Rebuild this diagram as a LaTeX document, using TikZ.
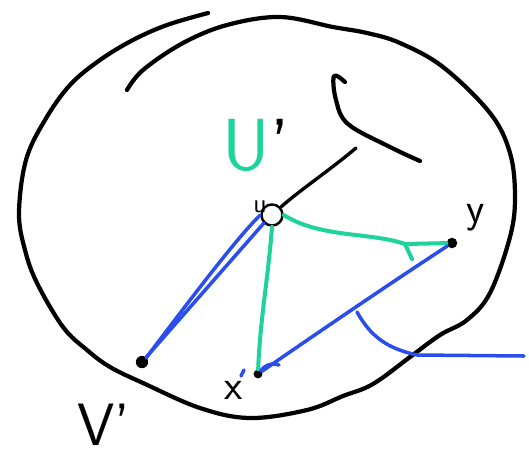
\documentclass[tikz,border=0pt]{standalone}
\usepackage{xcolor}
\usepackage{tikz}
\usetikzlibrary{calc}
\definecolor{mint}{HTML}{1FD49C}
\definecolor{inkblue}{HTML}{2A4DEE}

\begin{document}
\begin{tikzpicture}[x=0.02cm,y=-0.02cm,
  pen/.style={line width=2.4pt,draw=black,line cap=round,line join=round},
  grn/.style={line width=2.3pt,draw=mint,line cap=round,line join=round},
  blu/.style={line width=2pt,draw=inkblue,line cap=round,line join=round},
  dot/.style={circle,fill=black,inner sep=0pt,minimum size=#1},
  lbl/.style={inner sep=0pt,font=\sffamily\fontsize{#1}{#1}\selectfont}
]
\useasboundingbox (0,0) rectangle (529,458);

% outer set, drawn as one loose stroke
\draw[pen] plot[smooth,tension=0.6] coordinates {
  (208,13) (167,25) (133,40) (100,60) (70,85) (45,120) (26,160)
  (19,213) (25,250) (37,283) (63,327) (87,350) (110,367) (143,383)
  (200,408) (250,418) (307,410) (343,396) (373,384) (410,357)
  (440,335) (467,320) (490,293) (510,237) (515,197) (510,153)
  (490,113) (443,67) (400,43) (367,33) (333,27) (280,17) (227,25)
  (183,43) (143,70) (127,90)};
% hook at the top right
\draw[pen] plot[smooth,tension=0.6] coordinates {
  (345,82) (334,76) (336,100) (348,124) (390,147) (420,161)};

% vertices
\node[draw,circle,line width=1.4pt,inner sep=0pt,minimum size=12pt] (u) at (272,215) {};
\node[lbl=15,anchor=east] (ulab) at (267,207) {u};
\node[dot=7pt] (v) at (142,362) {};
\node[dot=5pt] (x) at (258,374) {};
\node[dot=6pt] (y) at (452,243) {};

% labels
\node[lbl=42,text=mint] (U) at (256,145) {U\textcolor{black}{'}};
\node[lbl=34] (V) at (104,425) {V'};
\node[lbl=24] (xlab) at (234,390) {x};
\node[lbl=24] (ylab) at (476,218) {y};

% edges
\draw[pen,line width=1.9pt] (u) .. controls (300,190) and (330,170) .. (356,148);
\draw[blu] (v) -- (u.south west);
\draw[blu] ($(v)+(4,-4)$) .. controls (190,300) and (235,240) .. (u.west);
\draw[grn] (u.south) .. controls (268,280) and (260,320) .. (x);
\draw[grn] (u.east) .. controls (320,238) and (370,232) .. (405,244) -- (y);
\coordinate (gk) at (405,244);
\draw[grn] (gk) -- ++(7,15);
\draw[blu] (x) .. controls (300,345) and (380,290) .. (y);
\draw[blu] (x) .. controls (268,362) and (276,364) .. (279,365);
\draw[blu] ($(x)+(-14,-4)$) -- ++(-3,6);

% remark line
\coordinate (rm) at (357,312);
\coordinate (re) at (524,356);
\draw[blu] (rm) .. controls (370,335) and (385,348) .. (417,355) -- (re);
\end{tikzpicture}
\end{document}
